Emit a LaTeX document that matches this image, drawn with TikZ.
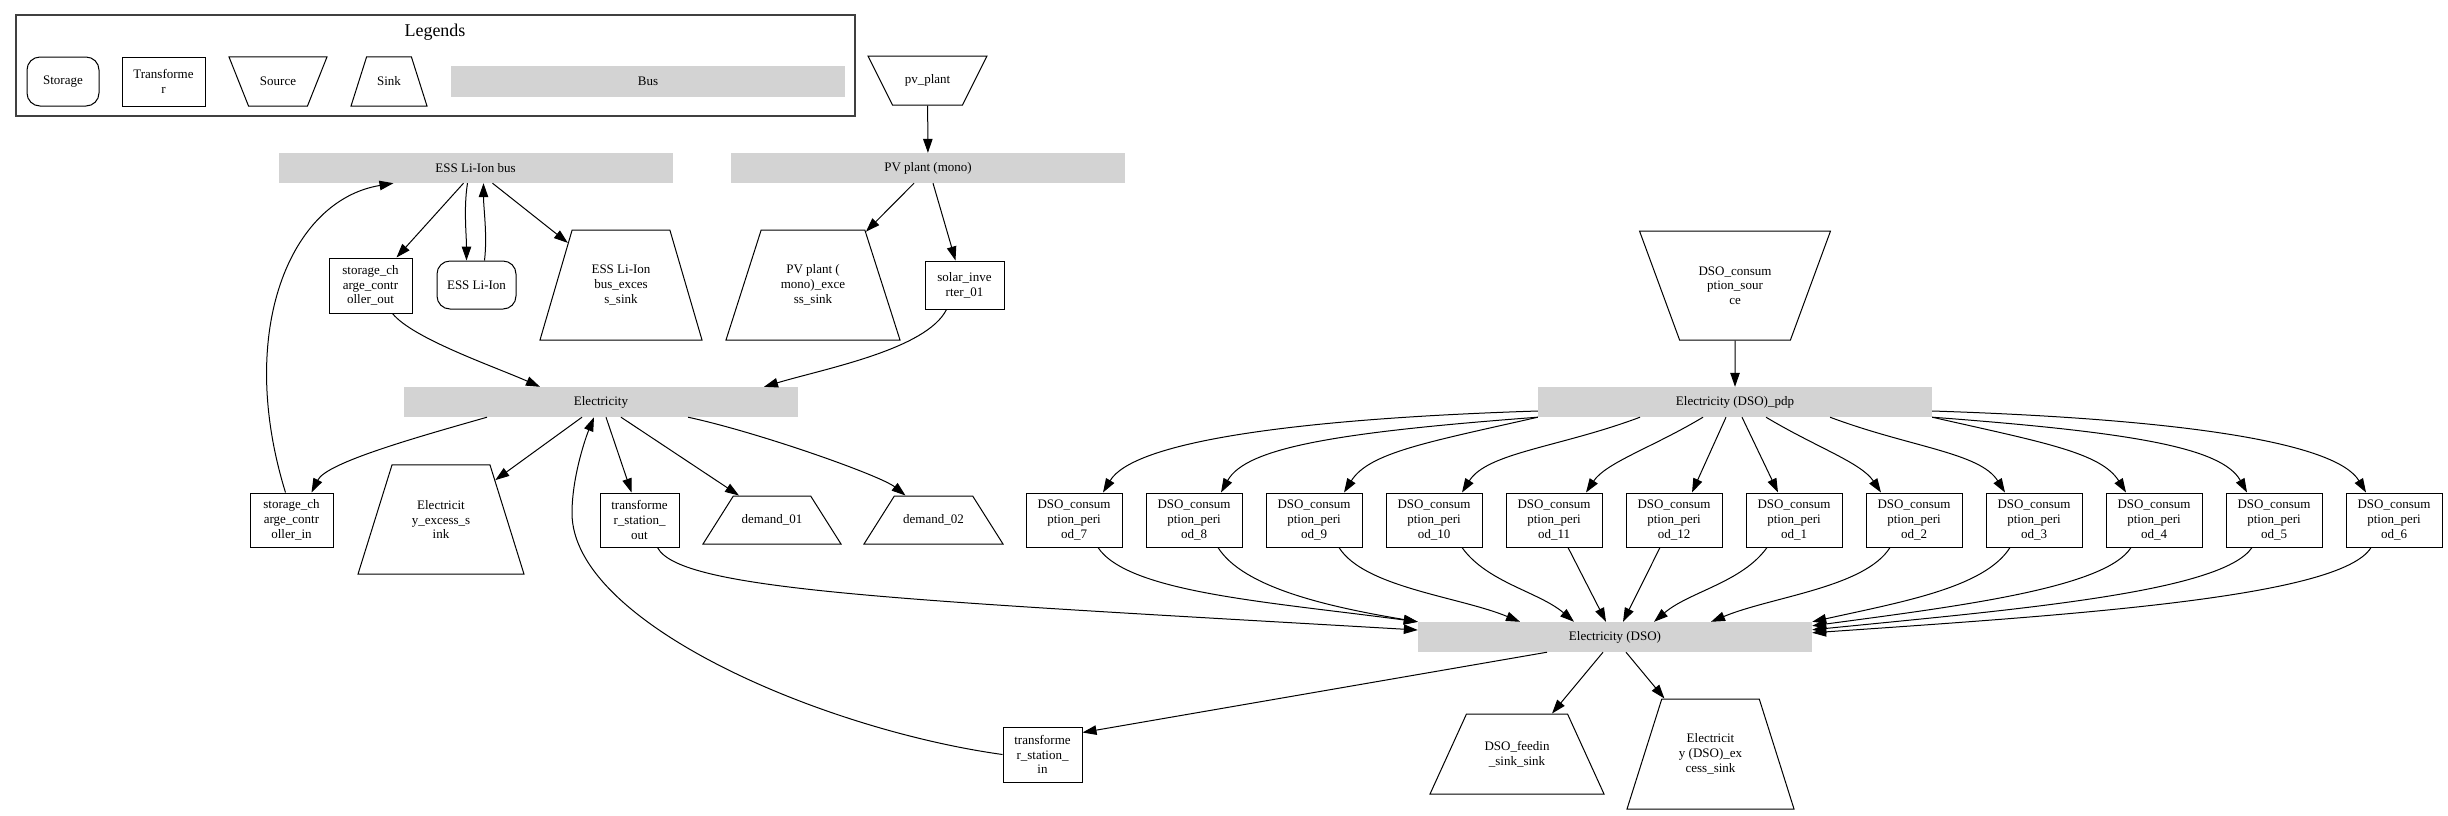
\documentclass[tikz,border=0pt]{standalone}
\usepackage{fontspec}
\setmainfont{Liberation Serif}
\usetikzlibrary{shapes.geometric, arrows.meta}
\definecolor{busgray}{HTML}{D3D3D3}

\begin{document}
\begin{tikzpicture}[x=1pt, y=-1pt,
  font=\fontsize{13}{14.7}\selectfont,
  bus/.style={fill=busgray, minimum width=394, minimum height=30, inner sep=0pt},
  trafo/.style={draw, line width=1pt, align=center, inner sep=2pt},
  storage/.style={draw, line width=1pt, rounded corners=13pt, align=center, inner sep=2pt},
  sink/.style={draw, line width=1pt, trapezium, trapezium stretches body, align=center, inner xsep=1pt},
  source/.style={sink, shape border rotate=180},
  arrow/.style={-{Triangle[length=14pt, width=9.5pt]}, line width=1pt}
]
\useasboundingbox (0,0) rectangle (2448,815);

\node[draw=black!75, line width=1.5pt, minimum width=839, minimum height=101, inner sep=0pt] (legend) at (435.5,65.5) {};
\node[font=\fontsize{18}{20}\selectfont] (legtitle) at (435,32) {Legends};
\node[storage, minimum width=72, minimum height=49] (lstorage) at (63,81.5) {Storage};
\node[trafo, minimum width=83, minimum height=49] (ltrafo) at (163.5,81.5) {Transforme\\r};
\node[source, inner ysep=20.2pt, trapezium angle=68.3, minimum width=98, minimum height=49] (lsource) at (278,81.5) {Source};
\node[sink, inner ysep=20pt, trapezium angle=72.4, minimum width=76, minimum height=49] (lsink) at (389,81.5) {Sink};
\node[bus, minimum height=31] (lbus) at (648,81.5) {Bus};

\node[source, inner ysep=18.6pt, trapezium angle=63.4, minimum width=119, minimum height=49] (pvplant) at (927.5,80.5) {pv\_plant};
\node[bus] (pvbus) at (928,168) {PV plant (mono)};
\node[bus] (essbus) at (475.5,168) {ESS Li-Ion bus};
\node[trafo, minimum width=83, minimum height=55] (scco) at (370.5,285.5) {storage\_ch\\arge\_contr\\oller\_out};
\node[storage, minimum width=79, minimum height=48] (esslion) at (476.5,285) {ESS Li-Ion};
\node[sink, inner ysep=34.4pt, trapezium angle=73.5, minimum width=162, minimum height=110] (essexcess) at (621,285) {ESS Li-Ion\\bus\_exces\\s\_sink};
\node[sink, inner ysep=34.4pt, trapezium angle=72.1, minimum width=174, minimum height=110] (pvexcess) at (813,285) {PV plant (\\mono)\_exce\\ss\_sink};
\node[trafo, minimum width=79, minimum height=48] (inverter) at (964.5,285) {solar\_inve\\rter\_01};
\node[bus] (elec) at (601,402) {Electricity};
\node[trafo, minimum width=83, minimum height=54] (scci) at (291.5,520) {storage\_ch\\arge\_contr\\oller\_in};
\node[sink, inner ysep=35.4pt, trapezium angle=72.7, minimum width=166, minimum height=109] (elecexcess) at (441,519.5) {Electricit\\y\_excess\_s\\ink};
\node[trafo, minimum width=79, minimum height=54] (tsout) at (639.5,520) {transforme\\r\_station\_\\out};
\node[sink, inner ysep=18.1pt, trapezium angle=57.1, minimum width=138, minimum height=48] (dem1) at (772,520) {demand\_01};
\node[sink, inner ysep=18.1pt, trapezium angle=57.1, minimum width=139, minimum height=48] (dem2) at (933.5,520) {demand\_02};

\node[source, inner ysep=35.4pt, trapezium angle=69.8, minimum width=191, minimum height=109] (dsosrc) at (1735,285.5) {DSO\_consum\\ption\_sour\\ce};
\node[bus] (pdp) at (1735,402) {Electricity (DSO)\_pdp};
\node[trafo, minimum width=96, minimum height=54] (p7) at (1074,520) {DSO\_consum\\ption\_peri\\od\_7};
\node[trafo, minimum width=96, minimum height=54] (p8) at (1194,520) {DSO\_consum\\ption\_peri\\od\_8};
\node[trafo, minimum width=96, minimum height=54] (p9) at (1314,520) {DSO\_consum\\ption\_peri\\od\_9};
\node[trafo, minimum width=96, minimum height=54] (p10) at (1434,520) {DSO\_consum\\ption\_peri\\od\_10};
\node[trafo, minimum width=96, minimum height=54] (p11) at (1554,520) {DSO\_consum\\ption\_peri\\od\_11};
\node[trafo, minimum width=96, minimum height=54] (p12) at (1674,520) {DSO\_consum\\ption\_peri\\od\_12};
\node[trafo, minimum width=96, minimum height=54] (p1) at (1794,520) {DSO\_consum\\ption\_peri\\od\_1};
\node[trafo, minimum width=96, minimum height=54] (p2) at (1914,520) {DSO\_consum\\ption\_peri\\od\_2};
\node[trafo, minimum width=96, minimum height=54] (p3) at (2034,520) {DSO\_consum\\ption\_peri\\od\_3};
\node[trafo, minimum width=96, minimum height=54] (p4) at (2154,520) {DSO\_consum\\ption\_peri\\od\_4};
\node[trafo, minimum width=96, minimum height=54] (p5) at (2274,520) {DSO\_consum\\ption\_peri\\od\_5};
\node[trafo, minimum width=96, minimum height=54] (p6) at (2394,520) {DSO\_consum\\ption\_peri\\od\_6};
\node[bus] (dso) at (1615,637) {Electricity (DSO)};
\node[trafo, minimum width=79, minimum height=55] (tsin) at (1042.5,754.5) {transforme\\r\_station\_\\in};
\node[sink, inner ysep=26.7pt, trapezium angle=65.2, minimum width=174, minimum height=80] (feedin) at (1517,754) {DSO\_feedin\\\_sink\_sink};
\node[sink, inner ysep=34.4pt, trapezium angle=72.3, minimum width=167, minimum height=110] (dsoexcess) at (1710.5,754) {Electricit\\y (DSO)\_ex\\cess\_sink};
\coordinate (tsbend) at (572,513);

\draw[arrow] (pvplant) -- (pvbus);
\draw[arrow] ([xshift=-14]pvbus.south) -- (pvexcess);
\draw[arrow] ([xshift=5]pvbus.south) -- ([xshift=-9]inverter.north);
\draw[arrow] ([xshift=-18]inverter.south) .. controls +(-20,40) and +(60,-18) .. ([xshift=163]elec.north);
\draw[arrow] ([xshift=-12]essbus.south) -- ([xshift=26]scco.north);
\draw[arrow] ([xshift=-8]essbus.south) .. controls +(-4,25) and +(0,-25) .. ([xshift=-10]esslion.north);
\draw[arrow] ([xshift=8]esslion.north) .. controls +(3,-25) and +(0,25) .. ([xshift=8]essbus.south);
\draw[arrow] ([xshift=17]essbus.south) -- (essexcess);
\draw[arrow] ([xshift=22]scco.south) .. controls +(20,25) and +(-45,-20) .. ([xshift=-61]elec.north);
\draw[arrow] ([xshift=-6]scci.north) .. controls +(-50,-162) and +(-103,17) .. ([xshift=-82]essbus.south);
\draw[arrow] ([xshift=-114]elec.south) .. controls +(-70,20) and +(15,-30) .. ([xshift=20]scci.north);
\draw[arrow] ([xshift=-19]elec.south) -- (elecexcess);
\draw[arrow] ([xshift=5]elec.south) -- ([xshift=-8]tsout.north);
\draw[arrow] ([xshift=20]elec.south) -- ([xshift=-33]dem1.north);
\draw[arrow] ([xshift=87]elec.south) .. controls +(70,15) and +(-25,-20) .. ([xshift=-28]dem2.north);
\draw[arrow] (tsin.west) .. controls +(-180,-25) and +(0,110) .. (tsbend) .. controls +(0,-35) and +(-9,22) .. ([xshift=-7]elec.south);
\draw[arrow] ([xshift=18]tsout.south) .. controls +(22,43) and +(-518,-30) .. ([yshift=7]dso.west);
\draw[arrow] ([xshift=-68]dso.south) -- ([yshift=-6]tsin.north east);
\draw[arrow] ([xshift=-12]dso.south) -- ([xshift=35]feedin.north);
\draw[arrow] ([xshift=11]dso.south) -- (dsoexcess);
\draw[arrow] (dsosrc) -- (pdp);

\draw[arrow] ([yshift=-9]pdp.west) .. controls +(-250,8) and +(30,-50) .. ([xshift=29]p7.north);
\draw[arrow] (pdp.south west) .. controls +(-200,15) and +(25,-45) .. ([xshift=27]p8.north);
\draw[arrow] (pdp.south west) .. controls +(-110,25) and +(25,-40) .. ([xshift=30]p9.north);
\draw[arrow] ([xshift=-95]pdp.south) .. controls +(-80,30) and +(25,-40) .. ([xshift=28]p10.north);
\draw[arrow] ([xshift=-32]pdp.south) .. controls +(-50,30) and +(20,-30) .. ([xshift=32]p11.north);
\draw[arrow] ([xshift=-9]pdp.south) -- ([xshift=18]p12.north);
\draw[arrow] ([xshift=7]pdp.south) -- ([xshift=-16]p1.north);
\draw[arrow] ([xshift=31]pdp.south) .. controls +(50,30) and +(-20,-30) .. ([xshift=-33]p2.north);
\draw[arrow] ([xshift=95]pdp.south) .. controls +(80,30) and +(-25,-40) .. ([xshift=-29]p3.north);
\draw[arrow] (pdp.south east) .. controls +(110,25) and +(-25,-40) .. ([xshift=-28]p4.north);
\draw[arrow] (pdp.south east) .. controls +(200,15) and +(-25,-45) .. ([xshift=-27]p5.north);
\draw[arrow] ([yshift=-9]pdp.east) .. controls +(250,8) and +(-30,-50) .. ([xshift=-28]p6.north);

\draw[arrow] ([xshift=24]p7.south) .. controls +(30,45) and +(-150,-20) .. (dso.north west);
\draw[arrow] ([xshift=24]p8.south) .. controls +(25,40) and +(-90,-15) .. (dso.north west);
\draw[arrow] ([xshift=25]p9.south) .. controls +(25,40) and +(-60,-25) .. ([xshift=-95]dso.north);
\draw[arrow] ([xshift=28]p10.south) .. controls +(25,35) and +(-35,-30) .. ([xshift=-41]dso.north);
\draw[arrow] ([xshift=14]p11.south) -- ([xshift=-9]dso.north);
\draw[arrow] ([xshift=-14]p12.south) -- ([xshift=8]dso.north);
\draw[arrow] ([xshift=-27]p1.south) .. controls +(-25,35) and +(35,-30) .. ([xshift=39]dso.north);
\draw[arrow] ([xshift=-24]p2.south) .. controls +(-25,40) and +(60,-25) .. ([xshift=96]dso.north);
\draw[arrow] ([xshift=-24]p3.south) .. controls +(-25,40) and +(90,-20) .. (dso.north east);
\draw[arrow] ([xshift=-23]p4.south) .. controls +(-25,40) and +(150,-20) .. ([yshift=-4]dso.north east);
\draw[arrow] ([xshift=-22]p5.south) .. controls +(-30,45) and +(200,-20) .. ([yshift=-8]dso.north east);
\draw[arrow] ([xshift=-23]p6.south) .. controls +(-30,50) and +(260,-18) .. ([yshift=-11]dso.north east);
\end{tikzpicture}
\end{document}
